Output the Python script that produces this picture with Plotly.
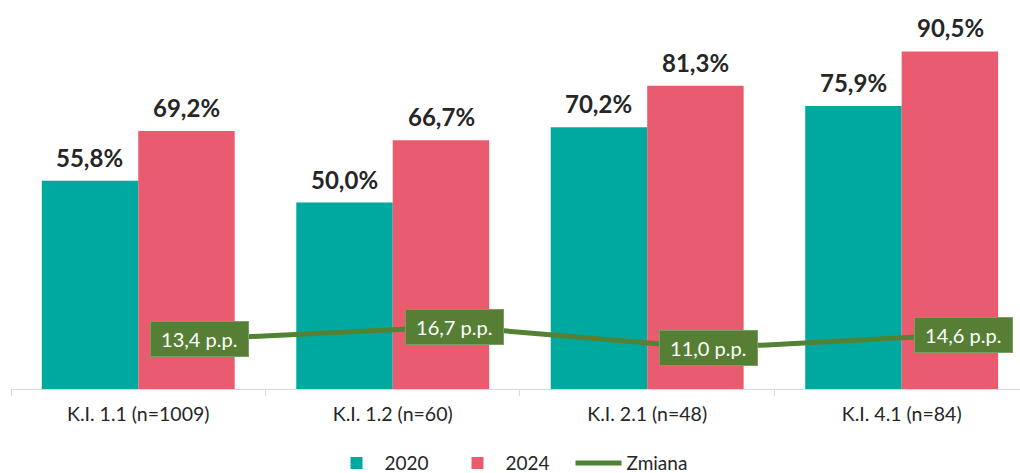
import plotly.graph_objects as go

categories = ["K.I. 1.1 (n=1009)", "K.I. 1.2 (n=60)", "K.I. 2.1 (n=48)", "K.I. 4.1 (n=84)"]
values_2020 = [55.8, 50.0, 70.2, 75.9]
values_2024 = [69.2, 66.7, 81.3, 90.5]
change = [13.4, 16.7, 11.0, 14.6]

TEAL = "#00A99F"
RED = "#E95C6F"
GREEN = "#548235"
FONT = "Lato"

def fmt(v):
    return f"{v:.1f}".replace(".", ",")

fig = go.Figure()
fig.add_trace(go.Bar(x=categories, y=values_2020, name="2020", marker=dict(color=TEAL, line=dict(width=0))))
fig.add_trace(go.Bar(x=categories, y=values_2024, name="2024", marker=dict(color=RED, line=dict(width=0))))
fig.add_trace(go.Scatter(x=categories, y=change, name="Zmiana", mode="lines",
                         line=dict(color=GREEN, width=5), xaxis="x2"))

annotations = []
for i, c in enumerate(categories):
    for vals, off in ((values_2020, -0.19), (values_2024, 0.19)):
        annotations.append(dict(x=i + off, y=vals[i], xref="x", yref="y", text=f"<b>{fmt(vals[i])}%</b>",
                                showarrow=False, yanchor="bottom", yshift=7,
                                font=dict(family=FONT, size=24, color="#262626")))
    annotations.append(dict(x=c, y=change[i], xref="x2", yref="y",
                            text=f"\u00a0{fmt(change[i])} p.p.\u00a0",
                            showarrow=False, bgcolor="#567F35", bordercolor="#7A9E5E", borderwidth=1,
                            borderpad=5, font=dict(family=FONT, size=20, color="white")))

span = 3.965
off = 0.242
fig.update_layout(
    width=1020, height=473,
    margin=dict(l=11, r=0, t=16, b=84),
    paper_bgcolor="white", plot_bgcolor="white",
    barmode="group", bargap=0.242, bargroupgap=0,
    separators=", ",
    font=dict(family=FONT, color="#262626"),
    xaxis=dict(type="category", range=[-0.5, -0.5 + span], showline=True, linecolor="#D9D9D9", linewidth=1,
               ticks="outside", tickson="boundaries", ticklen=6, tickcolor="#D9D9D9",
               ticklabelstandoff=8,
               tickfont=dict(family=FONT, size=19.5, color="#262626"), showgrid=False),
    xaxis2=dict(type="category", overlaying="x", range=[-0.5 - off, -0.5 + span - off], visible=False,
                categoryarray=categories, categoryorder="array"),
    yaxis=dict(range=[0, 100], visible=False, showgrid=False, zeroline=False),
    legend=dict(orientation="h", x=0.5, xanchor="center", xref="container",
                y=0.021, yanchor="middle", yref="container",
                entrywidth=60, entrywidthmode="pixels",
                font=dict(family=FONT, size=19, color="#262626"), traceorder="normal", itemwidth=46),
    annotations=annotations,
    showlegend=True,
)
fig.write_html("out.html", config={"displayModeBar": False},
               post_script="document.body.style.margin='0';document.body.style.padding='0';")
